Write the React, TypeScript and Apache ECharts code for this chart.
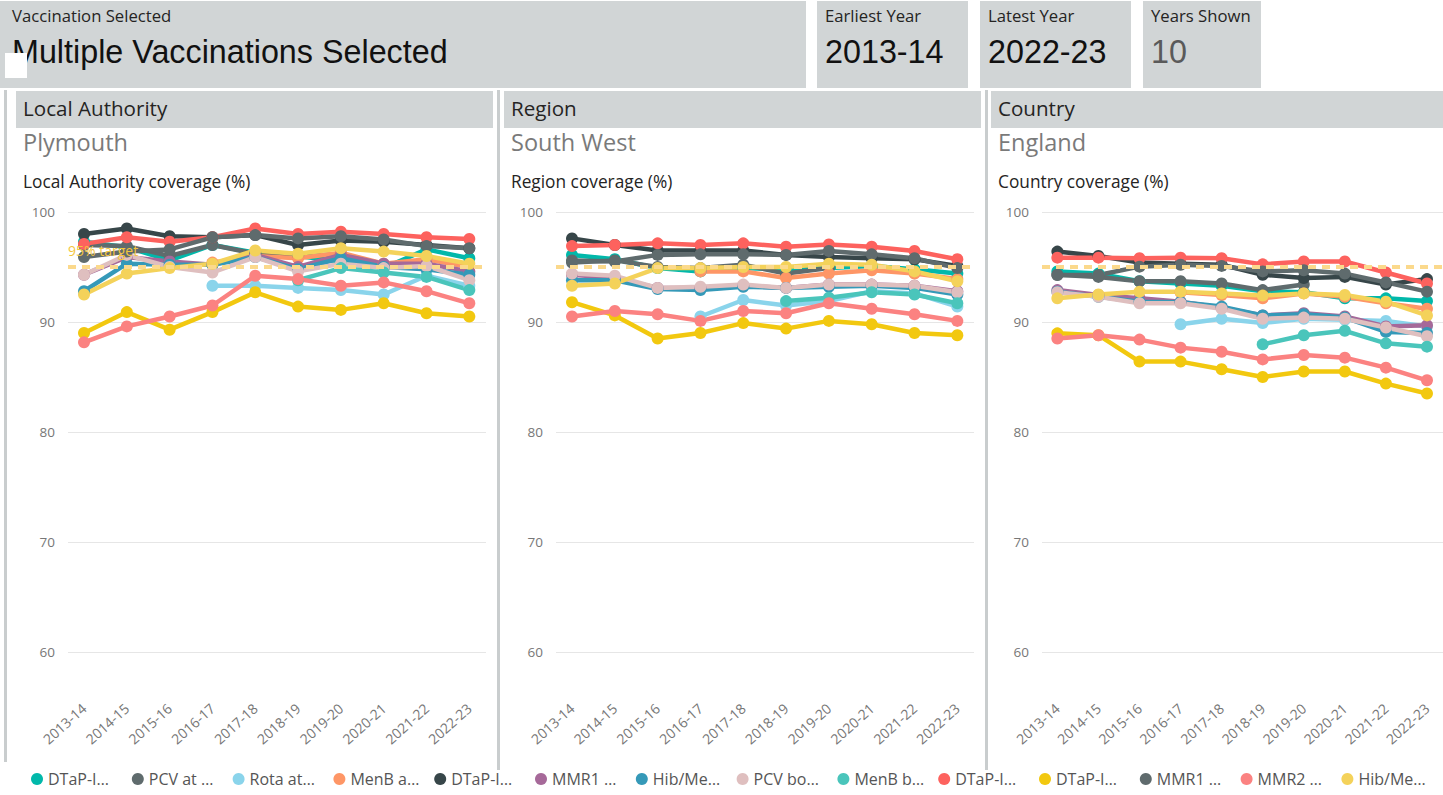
import React, { useEffect, useRef } from 'react';
import * as echarts from 'echarts';

// ---------- data ----------
const YEARS = ['2013-14', '2014-15', '2015-16', '2016-17', '2017-18', '2018-19', '2019-20', '2020-21', '2021-22', '2022-23'];

const SERIES_NAMES = [
  'DTaP-IPV-Hib-HepB at 12 months',
  'PCV at 12 months',
  'Rota at 12 months',
  'MenB at 12 months',
  'DTaP-IPV-Hib-HepB at 24 months',
  'MMR1 at 24 months',
  'Hib/MenC booster at 24 months',
  'PCV booster at 24 months',
  'MenB booster at 24 months',
  'DTaP-IPV-Hib-HepB at 5 years',
  'DTaP-IPV booster at 5 years',
  'MMR1 at 5 years',
  'MMR2 at 5 years',
  'Hib/MenC at 5 years',
];

const LEGEND_LABELS = ['DTaP-I…', 'PCV at …', 'Rota at…', 'MenB a…', 'DTaP-I…', 'MMR1 …', 'Hib/Me…', 'PCV bo…', 'MenB b…', 'DTaP-I…', 'DTaP-I…', 'MMR1 …', 'MMR2 …', 'Hib/Me…'];

const SERIES_COLORS = ['#01B8AA', '#5F6B6D', '#8AD4EB', '#FE9666', '#374649', '#A66999', '#3599B8', '#DFBFBF', '#4AC5BB', '#FD625E', '#F2C80F', '#5F6B6D', '#FB8281', '#F4D25A'];

const N = null;
// rows follow SERIES_NAMES order; columns follow YEARS
const PLYMOUTH_VALUES = [
  [97.3, 96.8, 95.6, 97.0, 96.3, 96.0, 95.5, 94.9, 96.6, 95.8],
  [97.0, 96.9, 96.0, 97.0, 96.2, 95.9, 96.2, N, N, N],
  [N, N, N, 93.3, 93.3, 93.1, 92.9, 92.5, 94.2, 93.3],
  [N, N, N, 95.4, 96.0, 95.8, 96.3, 95.3, 95.7, 95.0],
  [98.0, 98.5, 97.8, 97.7, 97.9, 97.0, 97.4, 97.3, 97.0, 96.7],
  [94.3, 95.9, 95.5, 95.2, 96.1, 95.0, 96.1, 95.3, 95.3, 94.6],
  [92.8, 95.3, 95.2, 95.2, 95.9, 94.8, 95.8, 95.0, 94.8, 94.3],
  [94.3, 96.1, 95.0, 94.5, 95.9, 94.6, 95.3, 94.9, 95.1, 93.8],
  [N, N, N, N, N, 93.8, 94.9, 94.5, 94.1, 92.9],
  [97.1, 97.7, 97.3, 97.7, 98.5, 98.0, 98.2, 98.0, 97.7, 97.55],
  [89.0, 90.9, 89.3, 90.9, 92.7, 91.4, 91.1, 91.7, 90.8, 90.5],
  [95.9, 96.4, 96.6, 97.7, 97.9, 97.6, 97.8, 97.5, 96.9, 96.7],
  [88.15, 89.6, 90.5, 91.5, 94.2, 93.9, 93.3, 93.6, 92.8, 91.7],
  [92.5, 94.4, 94.9, 95.3, 96.5, 96.2, 96.7, 96.4, 96.0, 95.3],
];

const SOUTH_WEST_VALUES = [
  [96.1, 95.7, 94.9, 94.6, 94.9, 94.8, 94.9, 95.1, 94.8, 94.4],
  [95.4, 95.6, 95.0, 94.9, 95.2, 94.4, 94.9, N, N, N],
  [N, N, N, 90.5, 92.0, 91.5, 91.9, 92.8, 92.6, 91.4],
  [N, N, N, 94.6, 94.6, 94.0, 94.4, 94.7, 94.4, 93.9],
  [97.6, 97.0, 96.5, 96.5, 96.5, 96.1, 95.9, 95.8, 95.7, 95.1],
  [94.3, 94.0, 93.1, 93.1, 93.3, 93.1, 93.4, 93.4, 93.3, 92.8],
  [93.8, 93.8, 93.0, 92.9, 93.2, 93.1, 93.2, 93.3, 93.1, 92.5],
  [94.4, 94.2, 93.1, 93.2, 93.4, 93.1, 93.4, 93.4, 93.3, 92.7],
  [N, N, N, N, N, 91.9, 92.2, 92.7, 92.5, 91.7],
  [96.9, 97.0, 97.15, 97.0, 97.15, 96.85, 97.05, 96.85, 96.45, 95.7],
  [91.8, 90.6, 88.5, 89.0, 89.9, 89.4, 90.1, 89.8, 89.0, 88.8],
  [95.6, 95.5, 96.1, 96.15, 96.15, 96.1, 96.45, 96.15, 95.8, 94.9],
  [90.5, 91.0, 90.7, 90.1, 91.0, 90.8, 91.7, 91.2, 90.7, 90.1],
  [93.3, 93.5, 94.9, 94.9, 95.0, 95.0, 95.3, 95.2, 94.6, 93.7],
];

const ENGLAND_VALUES = [
  [94.6, 94.4, 93.7, 93.5, 93.3, 92.8, 92.7, 92.15, 92.15, 91.9],
  [94.3, 94.1, 93.7, 93.7, 93.5, 92.9, 93.4, N, N, N],
  [N, N, N, 89.8, 90.3, 89.9, 90.3, 90.2, 90.1, 89.6],
  [N, N, N, 92.7, 92.45, 92.15, 92.6, 92.3, 91.7, 91.2],
  [96.4, 96.0, 95.4, 95.3, 95.2, 94.3, 94.0, 94.1, 93.4, 93.9],
  [92.9, 92.45, 92.15, 91.85, 91.3, 90.6, 90.8, 90.5, 89.6, 89.7],
  [92.76, 92.3, 91.85, 91.8, 91.4, 90.6, 90.7, 90.4, 89.1, 89.0],
  [92.7, 92.3, 91.7, 91.7, 91.2, 90.3, 90.4, 90.3, 89.5, 88.7],
  [N, N, N, N, N, 87.97, 88.8, 89.2, 88.06, 87.76],
  [95.85, 95.85, 95.8, 95.85, 95.8, 95.24, 95.5, 95.5, 94.5, 93.5],
  [88.97, 88.8, 86.4, 86.4, 85.7, 85.0, 85.5, 85.5, 84.4, 83.5],
  [94.27, 94.27, 95.03, 95.2, 95.1, 94.6, 94.7, 94.4, 93.6, 92.76],
  [88.5, 88.8, 88.4, 87.67, 87.3, 86.6, 87.0, 86.76, 85.85, 84.7],
  [92.15, 92.5, 92.76, 92.76, 92.6, 92.4, 92.6, 92.45, 91.85, 90.6],
];

const PANEL_VALUES = [PLYMOUTH_VALUES, SOUTH_WEST_VALUES, ENGLAND_VALUES];
const PANEL_HEADERS = ['Local Authority', 'Region', 'Country'];
const PANEL_PLACES = ['Plymouth', 'South West', 'England'];
const PANEL_CHART_TITLES = ['Local Authority coverage (%)', 'Region coverage (%)', 'Country coverage (%)'];

const CARD_LABELS = ['Vaccination Selected', 'Earliest Year', 'Latest Year', 'Years Shown'];
const CARD_VALUES = ['Multiple Vaccinations Selected', '2013-14', '2022-23', '10'];

const TARGET_VALUE = 95;
const TARGET_LABEL = '95% target';
const Y_MIN = 60;
const Y_MAX = 100;
const Y_STEP = 10;

// ---------- layout ----------
const FONT = "'Segoe UI', 'Open Sans', sans-serif";
const BIG_FONT = "'Liberation Sans', Arial, sans-serif";
const CARD_BG = '#D1D5D6';

const CARD_BOXES = [
  { x: 0, w: 806 },
  { x: 817, w: 151 },
  { x: 980, w: 151 },
  { x: 1143, w: 118 },
];
const PANEL_X = [16, 504, 991];
const PANEL_W = [477, 477, 460];
const GRID_LEFT = [68, 556, 1042];
const GRID_TOP = 212;
const GRID_W = 418;
const GRID_H = 440;
const LEGEND_X0 = 31;
const LEGEND_STEP = 100.8;

export default function App() {
  const ref = useRef<HTMLDivElement>(null);

  useEffect(() => {
    document.body.style.margin = '0';
    document.body.style.overflow = 'hidden';
    const chart = echarts.init(ref.current as HTMLDivElement, null, { renderer: 'svg' });

    const graphics: any[] = [];
    // cards
    CARD_BOXES.forEach((b, i) => {
      graphics.push({ type: 'rect', silent: true, shape: { x: b.x, y: 1, width: b.w, height: 87 }, style: { fill: CARD_BG } });
      graphics.push({
        type: 'text', silent: true, x: b.x + (i === 0 ? 12 : 8), y: 15,
        style: { text: CARD_LABELS[i], fill: '#252423', fontSize: 16.7, fontFamily: FONT, align: 'left', verticalAlign: 'middle' },
      });
      graphics.push({
        type: 'text', silent: true, x: b.x + (i === 0 ? 12 : 8), y: 52,
        style: { text: CARD_VALUES[i], fill: i === 3 ? '#5a5a5a' : '#111111', fontSize: 32.3, fontFamily: BIG_FONT, align: 'left', verticalAlign: 'middle' },
      });
    });
    graphics.push({ type: 'rect', silent: true, shape: { x: 5, y: 53, width: 22, height: 25 }, style: { fill: '#ffffff' } });

    // separators
    graphics.push({ type: 'rect', silent: true, shape: { x: 4, y: 90, width: 3, height: 672 }, style: { fill: '#C9CDCE' } });
    graphics.push({ type: 'rect', silent: true, shape: { x: 497, y: 90, width: 3, height: 680 }, style: { fill: '#C9CDCE' } });
    graphics.push({ type: 'rect', silent: true, shape: { x: 985, y: 90, width: 3, height: 680 }, style: { fill: '#C9CDCE' } });

    // panel headers
    PANEL_HEADERS.forEach((h, p) => {
      graphics.push({ type: 'rect', silent: true, shape: { x: PANEL_X[p], y: 91, width: PANEL_W[p], height: 37 }, style: { fill: CARD_BG } });
      graphics.push({
        type: 'text', silent: true, x: PANEL_X[p] + 7, y: 108,
        style: { text: h, fill: '#252423', fontSize: 20.6, fontFamily: FONT, align: 'left', verticalAlign: 'middle' },
      });
      graphics.push({
        type: 'text', silent: true, x: PANEL_X[p] + 7, y: 142,
        style: { text: PANEL_PLACES[p], fill: '#7a7a7a', fontSize: 23.5, fontFamily: FONT, align: 'left', verticalAlign: 'middle' },
      });
      graphics.push({
        type: 'text', silent: true, x: PANEL_X[p] + 7, y: 181,
        style: { text: PANEL_CHART_TITLES[p], fill: '#252423', fontSize: 17.3, fontFamily: FONT, align: 'left', verticalAlign: 'middle' },
      });
    });

    const grids = GRID_LEFT.map((l) => ({ left: l, top: GRID_TOP, width: GRID_W, height: GRID_H }));
    const idx = YEARS.map((_, i) => i);
    const xAxes = GRID_LEFT.map((_, p) => ({
      type: 'value', gridIndex: p, min: -0.374, max: 9.39,
      axisLine: { show: false }, axisTick: { show: false }, splitLine: { show: false },
      axisLabel: {
        customValues: idx,
        formatter: (v: number) => YEARS[Math.round(v)] ?? '',
        rotate: 42, margin: 54, color: '#777777', fontSize: 14, fontFamily: FONT,
      },
    }));
    const yAxes = GRID_LEFT.map((_, p) => ({
      type: 'value', gridIndex: p, min: Y_MIN, max: Y_MAX, interval: Y_STEP,
      axisLine: { show: false }, axisTick: { show: false },
      splitLine: { lineStyle: { color: '#E6E6E6', width: 1 } },
      axisLabel: { color: '#777777', fontSize: 13.5, fontFamily: FONT, margin: 13 },
    }));

    const series: any[] = [];
    PANEL_VALUES.forEach((rows, p) => {
      rows.forEach((vals, s) => {
        const data = vals.map((v, i) => [i, v]).filter((d) => d[1] !== null);
        const item: any = {
          type: 'line', name: SERIES_NAMES[s], xAxisIndex: p, yAxisIndex: p, data,
          symbol: 'circle', symbolSize: 12, showSymbol: true,
          lineStyle: { width: 4.5, color: SERIES_COLORS[s] },
          itemStyle: { color: SERIES_COLORS[s] },
          emphasis: { disabled: true },
          clip: true,
        };
        if (s === 0) {
          // dashed target line, behind the coverage lines
          item.markLine = {
            silent: true, symbol: 'none',
            data: [{ yAxis: TARGET_VALUE }],
            lineStyle: { type: [8, 6], width: 4, color: '#FBD98C' },
            label: { show: false },
          };
        }
        if (p === 0 && s === rows.length - 1) {
          // target label, drawn above the lines
          item.markLine = {
            silent: true, symbol: 'none', z: 20,
            data: [{ yAxis: TARGET_VALUE }],
            lineStyle: { width: 0, color: 'rgba(0,0,0,0)' },
            label: {
              show: true, formatter: TARGET_LABEL, position: 'insideStartTop',
              color: '#F4C63D', fontSize: 14, fontFamily: FONT, distance: [0, 10],
            },
          };
        }
        series.push(item);
      });
    });

    const legends = SERIES_NAMES.map((name, i) => ({
      data: [name],
      left: LEGEND_X0 + i * LEGEND_STEP, top: 771, padding: 0,
      icon: 'circle', itemWidth: 12, itemHeight: 12,
      selectedMode: false,
      formatter: () => LEGEND_LABELS[i],
      textStyle: { fontSize: 16, color: '#555555', fontFamily: FONT },
    }));

    const option: any = {
      animation: false,
      graphic: graphics,
      grid: grids,
      xAxis: xAxes,
      yAxis: yAxes,
      legend: legends,
      series,
    };
    chart.setOption(option);
    return () => chart.dispose();
  }, []);

  return <div ref={ref} style={{ width: 1443, height: 795 }} />;
}
